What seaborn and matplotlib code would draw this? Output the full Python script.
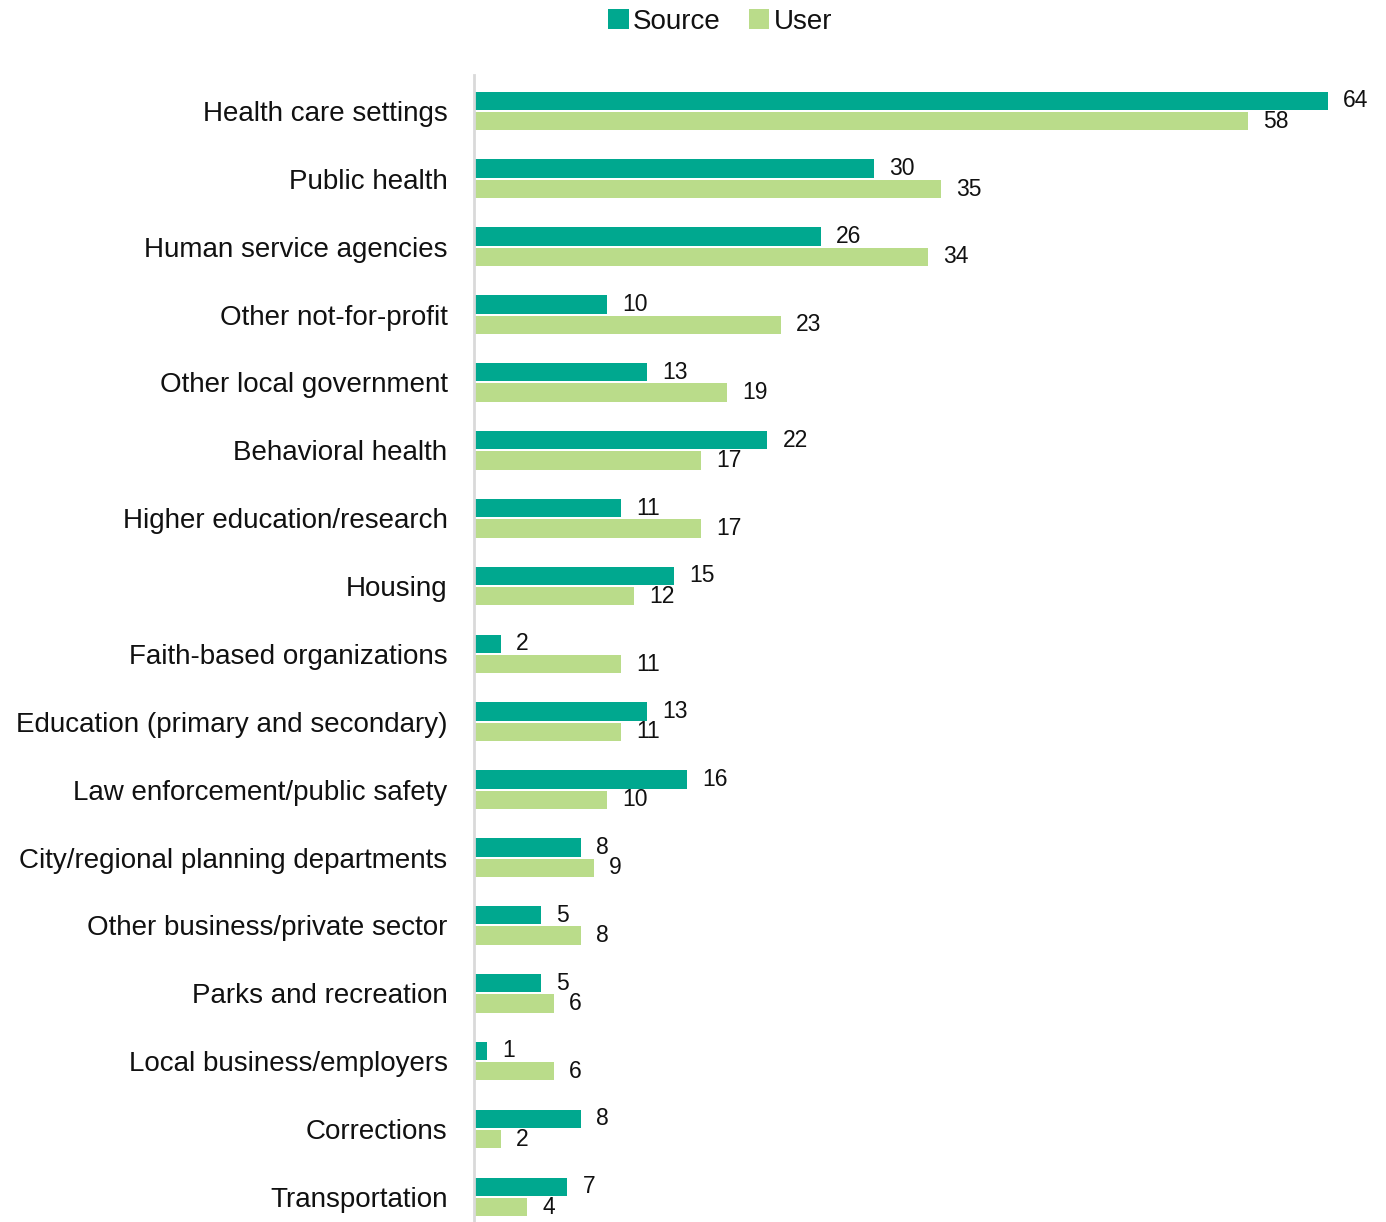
import matplotlib
matplotlib.use("Agg")
import matplotlib.pyplot as plt
import seaborn as sns
import pandas as pd
from matplotlib.patches import Patch

categories = [
    "Health care settings",
    "Public health",
    "Human service agencies",
    "Other not-for-profit",
    "Other local government",
    "Behavioral health",
    "Higher education/research",
    "Housing",
    "Faith-based organizations",
    "Education (primary and secondary)",
    "Law enforcement/public safety",
    "City/regional planning departments",
    "Other business/private sector",
    "Parks and recreation",
    "Local business/employers",
    "Corrections",
    "Transportation",
]
source_vals = [64, 30, 26, 10, 13, 22, 11, 15, 2, 13, 16, 8, 5, 5, 1, 8, 7]
user_vals = [58, 35, 34, 23, 19, 17, 17, 12, 11, 11, 10, 9, 8, 6, 6, 2, 4]
series = ["Source", "User"]
colors = ["#00A88F", "#BADC8A"]

df = pd.DataFrame({
    "category": categories * 2,
    "value": source_vals + user_vals,
    "series": [series[0]] * len(categories) + [series[1]] * len(categories),
})

sns.set_style("white")
plt.rcParams["font.family"] = ["Liberation Sans", "DejaVu Sans"]

fig = plt.figure(figsize=(13.86, 12.22), dpi=100)
ax = fig.add_axes([474 / 1386, 0.0, 1 - 474 / 1386, 1 - 75 / 1222])

sns.barplot(data=df, y="category", x="value", hue="series", order=categories,
            hue_order=series, palette=colors, orient="h", width=0.6, gap=0.1,
            saturation=1, linewidth=0, legend=False, ax=ax)

for cont in ax.containers:
    ax.bar_label(cont, fmt="%d", padding=11, fontsize=16.5, color="#111111")

ax.set_xlim(0, (1386 - 474) / 13.34)
ax.set_ylim(len(categories) - 1 + 0.37, -0.53)
ax.set_xlabel("")
ax.set_ylabel("")
ax.set_xticks([])
ax.tick_params(axis="y", length=0, pad=19, labelsize=20, labelcolor="#111111")
for side in ["top", "right", "bottom"]:
    ax.spines[side].set_visible(False)
ax.spines["left"].set_color("#d9d9d9")
ax.spines["left"].set_linewidth(2)

handles = [Patch(facecolor=c, edgecolor="none") for c in colors]
fig.legend(handles, series, loc="center", bbox_to_anchor=(720 / 1386, 1 - 22 / 1222),
           ncol=2, frameon=False, fontsize=20, handlelength=0.75, handleheight=0.75,
           handletextpad=0.15, columnspacing=1.0, labelcolor="#111111")

fig.savefig("out.png", dpi=100)
